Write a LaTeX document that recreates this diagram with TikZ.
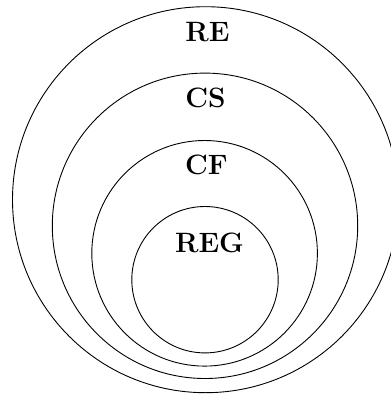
\documentclass[tikz,border=0pt]{standalone}
\begin{document}
\begin{tikzpicture}[x=1pt,y=-1pt,
  ring/.style={draw=black,line width=0.9pt},
  lbl/.style={font=\fontsize{28}{30}\selectfont\bfseries,inner sep=0pt}]
\useasboundingbox (0,0) rectangle (391,394);
\coordinate (cRE) at (205.5,199.7);
\coordinate (cCS) at (205,225.8);
\coordinate (cCF) at (204.6,253.3);
\coordinate (cREG) at (205,279.7);
\draw[ring] (cRE) circle[radius=193pt];
\draw[ring] (cCS) circle[radius=152.7pt];
\draw[ring] (cCF) circle[radius=112.8pt];
\draw[ring] (cREG) circle[radius=73.2pt];
\node[lbl] (re) at (207.5,32.5) {RE};
\node[lbl] (cs) at (205.5,97.5) {CS};
\node[lbl] (cf) at (206.5,164.5) {CF};
\node[lbl] (reg) at (209.5,243) {REG};
\end{tikzpicture}
\end{document}
